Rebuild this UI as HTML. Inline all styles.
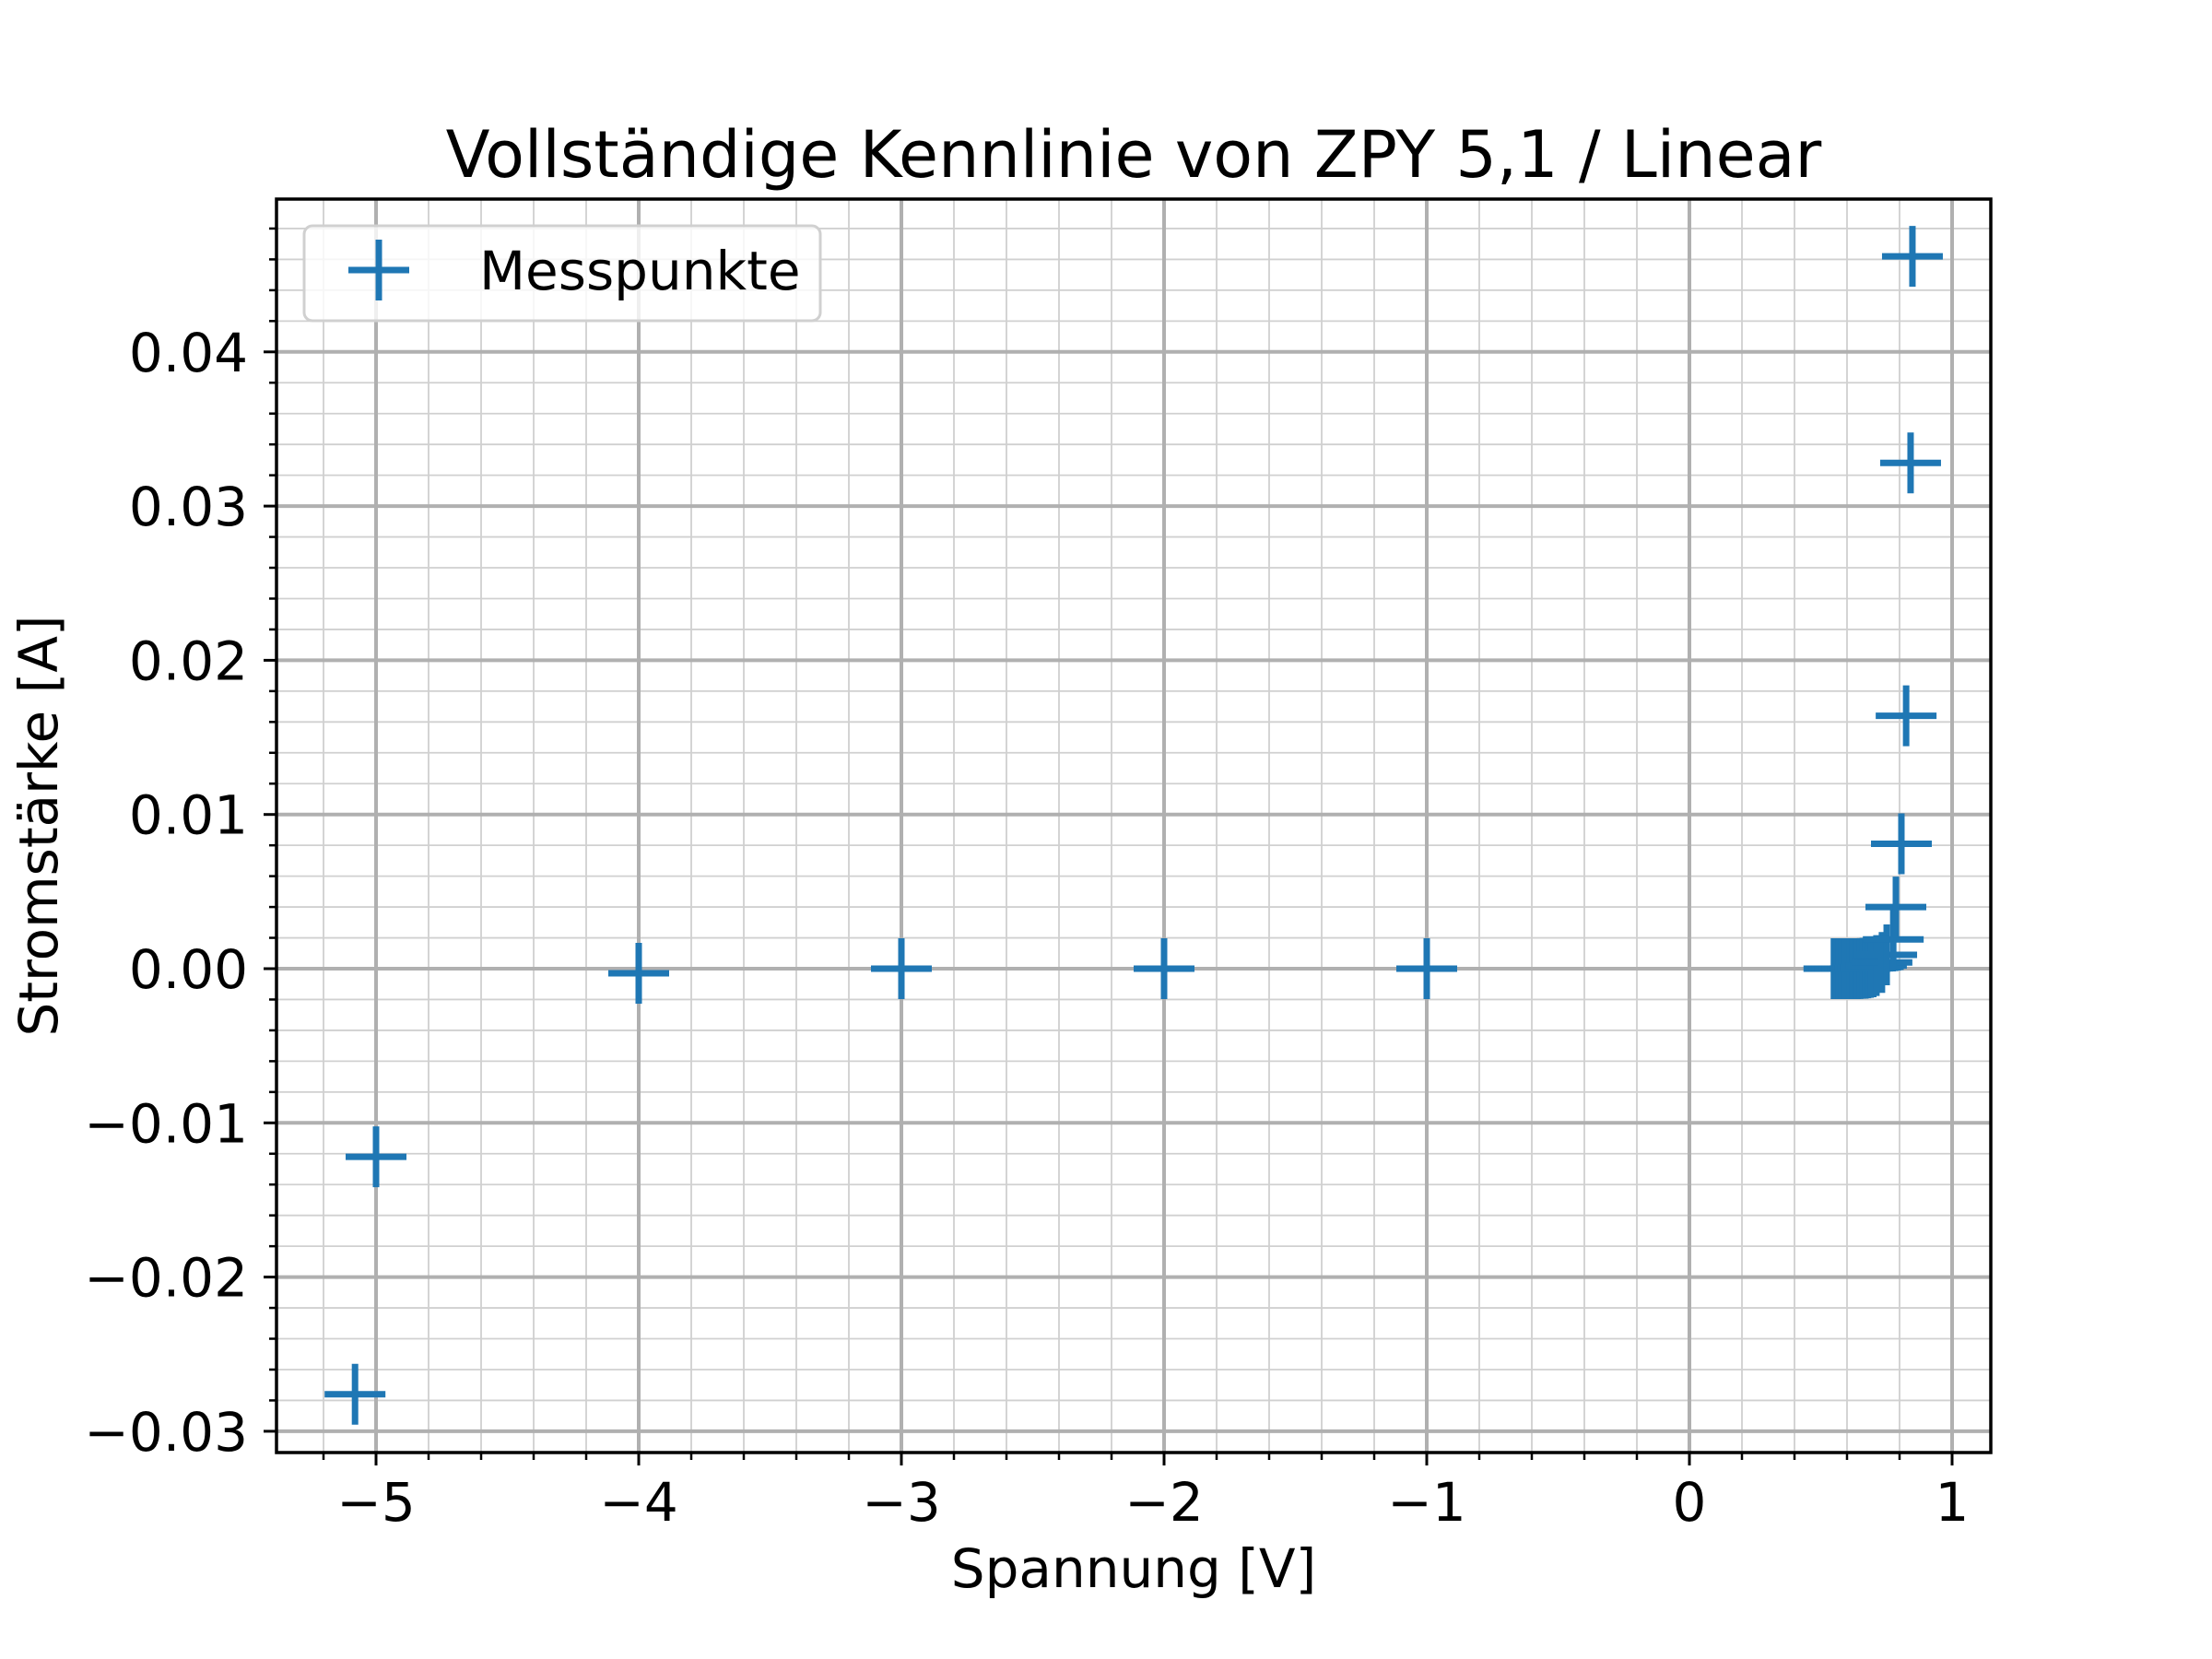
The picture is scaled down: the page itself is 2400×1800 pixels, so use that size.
<!DOCTYPE html>
<html><head><meta charset="utf-8">
<style>
html,body{margin:0;padding:0;background:#fff;}
svg{display:block;font-family:"DejaVu Sans","Liberation Sans",sans-serif;}
</style></head>
<body>
<svg id="chart" width="2400" height="1800" viewBox="0 0 2400 1800" xmlns="http://www.w3.org/2000/svg">
<rect x="0" y="0" width="2400" height="1800" fill="#fff"/>
<g id="grid"></g>
<g id="marks"></g>
<g id="axes"></g>
<text x="1230" y="192" font-size="70" text-anchor="middle">Vollständige Kennlinie von ZPY 5,1 / Linear</text>
<text x="1230" y="1722" font-size="58" text-anchor="middle">Spannung [V]</text>
<text transform="translate(62,896) rotate(-90)" font-size="58" text-anchor="middle">Stromstärke [A]</text>
<g>
<rect x="330" y="245" width="560" height="103" rx="9" fill="#fff" fill-opacity="0.8" stroke="#d0d0d0" stroke-width="3"/>
<g stroke="#1f77b4" stroke-width="7">
<line x1="378" y1="293" x2="444" y2="293"/><line x1="411" y1="260" x2="411" y2="326"/>
</g>
<text x="520" y="314" font-size="58">Messpunkte</text>
</g>
</svg>
<script>
const voltages = [-5.08, -5.0, -4.0, -3.0, -2.0, -1.0,
  0.55, 0.56, 0.57, 0.58, 0.59, 0.60, 0.61, 0.62, 0.63, 0.64, 0.65, 0.66, 0.67, 0.68, 0.69, 0.70,
  0.712, 0.733, 0.751, 0.776, 0.786, 0.807, 0.825, 0.842, 0.849];
const currents = [-0.0276, -0.0122, -0.0003, 0.0, 0.0, 0.0,
  0, 0, 0, 0, 0, 0, 0, 0, 0, 0, 0.00001, 0.00002, 0.00003, 0.00005, 0.00008, 0.00012,
  0.0002, 0.0004, 0.0009, 0.0019, 0.0040, 0.0081, 0.0164, 0.0328, 0.0462];
const xTicks = [-5, -4, -3, -2, -1, 0, 1];
const yTicks = [-0.03, -0.02, -0.01, 0, 0.01, 0.02, 0.03, 0.04];
const yTickLabels = ["−0.03", "−0.02", "−0.01", "0.00", "0.01", "0.02", "0.03", "0.04"];
const xTickLabels = ["−5", "−4", "−3", "−2", "−1", "0", "1"];

const L = 300, R = 2160, T = 216, B = 1576;
const xMin = (L - 1833) / 285, xMax = (R - 1833) / 285;
const yZero = 1051, yPer = 16730;
function sx(v) { return 1833 + v * 285; }
function sy(v) { return yZero - v * yPer; }
const NS = "http://www.w3.org/2000/svg";
function mk(parent, tag, attrs) {
  const e = document.createElementNS(NS, tag);
  for (const k in attrs) e.setAttribute(k, attrs[k]);
  parent.appendChild(e);
  return e;
}
const grid = document.getElementById('grid');
const axes = document.getElementById('axes');
const marks = document.getElementById('marks');

for (let i = Math.ceil(xMin * 5); i <= Math.floor(xMax * 5); i++) {
  const v = i / 5, x = sx(v);
  if (i % 5 !== 0) {
    const g = mk(grid, 'line', {x1: x, y1: T, x2: x, y2: B, stroke: '#d0d0d0', 'stroke-width': 1.8});
    
    
    const t = mk(axes, 'line', {x1: x, y1: B, x2: x, y2: B + 8, stroke: '#000', 'stroke-width': 2.5});
    
    
  }
}
const yMinV = (yZero - B) / yPer, yMaxV = (yZero - T) / yPer;
for (let i = Math.ceil(yMinV * 500); i <= Math.floor(yMaxV * 500); i++) {
  const v = i / 500, y = sy(v);
  if (i % 5 !== 0) {
    const g = mk(grid, 'line', {x1: L, y1: y, x2: R, y2: y, stroke: '#d0d0d0', 'stroke-width': 1.8});
    
    
    const t = mk(axes, 'line', {x1: L - 8, y1: y, x2: L, y2: y, stroke: '#000', 'stroke-width': 2.5});
    
    
  }
}
xTicks.forEach((v, i) => {
  const x = sx(v);
  const g = mk(grid, 'line', {x1: x, y1: T, x2: x, y2: B, stroke: '#b0b0b0', 'stroke-width': 4});
  
  
  const t = mk(axes, 'line', {x1: x, y1: B, x2: x, y2: B + 14, stroke: '#000', 'stroke-width': 3});
  
  
  const lb = mk(axes, 'text', {x: x, y: 1650, 'font-size': 58, 'text-anchor': 'middle'});
  lb.textContent = xTickLabels[i];
  
  
});
yTicks.forEach((v, i) => {
  const y = sy(v);
  const g = mk(grid, 'line', {x1: L, y1: y, x2: R, y2: y, stroke: '#b0b0b0', 'stroke-width': 4});
  
  
  const t = mk(axes, 'line', {x1: L - 14, y1: y, x2: L, y2: y, stroke: '#000', 'stroke-width': 3});
  
  
  const lb = mk(axes, 'text', {x: 269, y: y + 21, 'font-size': 58, 'text-anchor': 'end'});
  lb.textContent = yTickLabels[i];
  
  
});
const frame = mk(axes, 'rect', {x: L, y: T, width: R - L, height: B - T, fill: 'none', stroke: '#000', 'stroke-width': 3.5});



voltages.forEach((v, i) => {
  const x = sx(v), y = sy(currents[i]);
  const g = mk(marks, 'g', {stroke: '#1f77b4', 'stroke-width': 7});
  
  
  mk(g, 'line', {x1: x - 33, y1: y, x2: x + 33, y2: y});
  mk(g, 'line', {x1: x, y1: y - 33, x2: x, y2: y + 33});
});
</script>
</body></html>
